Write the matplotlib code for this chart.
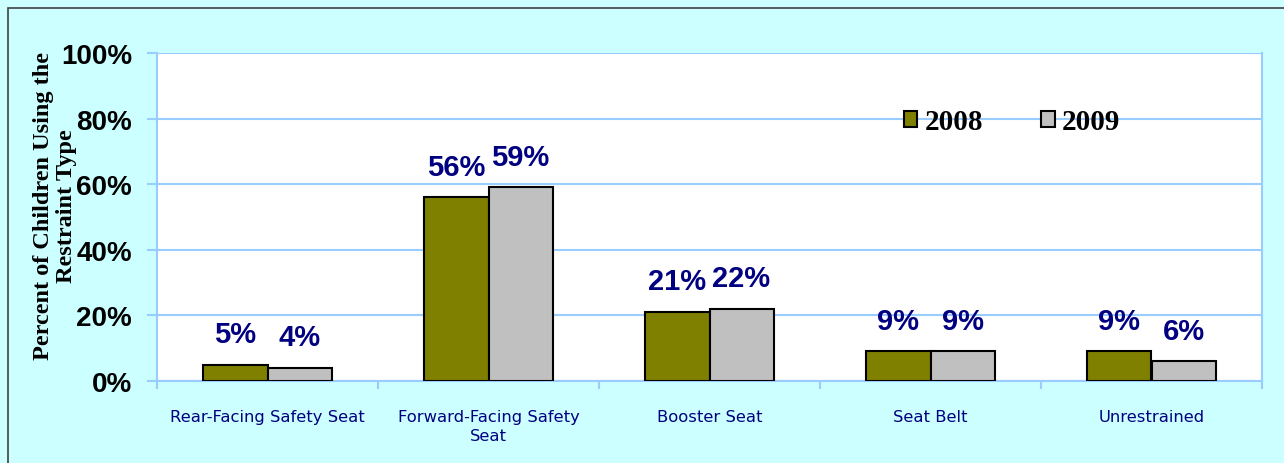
import numpy as np
import matplotlib
matplotlib.use("Agg")
import matplotlib.pyplot as plt
from matplotlib.patches import Rectangle

# ---------------- Data ----------------
categories = ["Rear-Facing Safety Seat", "Forward-Facing Safety\nSeat",
              "Booster Seat", "Seat Belt", "Unrestrained"]
years = ["2008", "2009"]
pct_2008 = [5, 56, 21, 9, 9]
pct_2009 = [4, 59, 22, 9, 6]
y_ticks = [0, 20, 40, 60, 80, 100]

bg = "#CCFFFF"
grid_c = "#99CCFF"
navy = "#000080"

fig = plt.figure(figsize=(12.84, 4.64), dpi=100, facecolor=bg)
ax = fig.add_axes([157 / 1284, 1 - 382 / 464, 1105 / 1284, 328 / 464])
ax.set_facecolor("white")

# outer frame of the chart area
fig.patches.append(Rectangle((8 / 1284, -0.05), 1.1, 1 - 9 / 464 + 0.05,
                             transform=fig.transFigure, fill=False,
                             edgecolor="#404040", linewidth=1.2))

x = np.arange(len(categories))
w = 0.29

bars08 = ax.bar(x - w / 2, pct_2008, w, color="#808000", edgecolor="black",
                linewidth=1.5, label=years[0], zorder=3)
bars09 = ax.bar(x + w / 2, pct_2009, w, color="#C0C0C0", edgecolor="black",
                linewidth=1.5, label=years[1], zorder=3)

# value labels
for bars in (bars08, bars09):
    for b in bars:
        h = b.get_height()
        ax.annotate(f"{h:.0f}%", (b.get_x() + b.get_width() / 2, h),
                    xytext=(0, 12), textcoords="offset points",
                    ha="center", va="bottom", fontsize=21, fontweight="bold",
                    color=navy, family="Liberation Sans")

ax.set_xlim(-0.5, len(categories) - 0.5)
ax.set_ylim(0, 100)
ax.set_yticks(y_ticks)
ax.set_yticklabels([f"{t}%" for t in y_ticks], fontsize=20, fontweight="bold",
                   family="Liberation Sans")
ax.yaxis.grid(True, color=grid_c, linewidth=1.5, zorder=0)
ax.set_axisbelow(True)

# category labels centred, ticks at category boundaries
ax.set_xticks(x)
ax.set_xticklabels(categories, fontsize=11.8, color=navy, family="DejaVu Sans",
                   linespacing=1.35)
ax.tick_params(axis="x", length=0, pad=20)
ax.set_xticks(np.arange(len(categories) + 1) - 0.5, minor=True)
ax.tick_params(axis="x", which="minor", length=6, color=grid_c, width=1.5)
ax.tick_params(axis="y", length=7, color=grid_c, width=1.5, pad=11)

for s in ["left", "bottom", "right"]:
    ax.spines[s].set_color(grid_c)
    ax.spines[s].set_linewidth(1.5)
ax.spines["top"].set_visible(False)

fig.text(55 / 1284, 1 - 206 / 464, "Percent of Children Using the\nRestraint Type",
         rotation=90, ha="center", va="center", fontsize=17.5, fontweight="bold",
         family="Liberation Serif", linespacing=1.1)

ax.legend(loc="center", bbox_to_anchor=(0.774, 0.79), ncol=2, frameon=False,
          prop={"family": "Liberation Serif", "weight": "bold", "size": 21},
          handlelength=0.45, handleheight=0.45, handletextpad=0.25,
          columnspacing=2.0)

fig.savefig("out.png", dpi=100, facecolor=bg)
